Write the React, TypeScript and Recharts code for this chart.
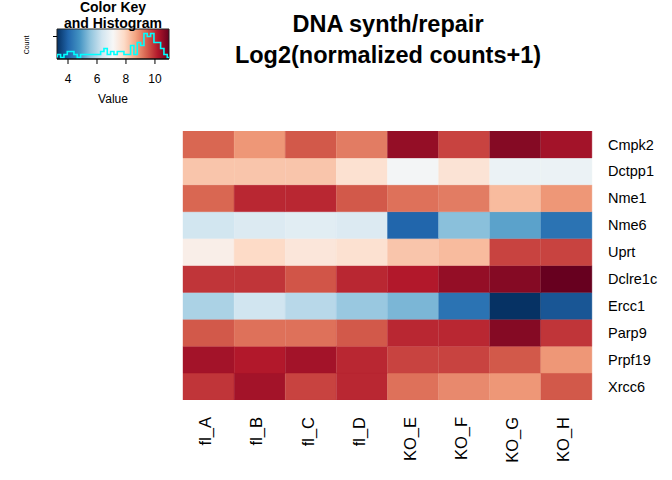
import React from 'react';
import { BarChart, Bar, Cell, XAxis, YAxis, ComposedChart, Line, ReferenceArea } from 'recharts';

const samples = ['fl_A', 'fl_B', 'fl_C', 'fl_D', 'KO_E', 'KO_F', 'KO_G', 'KO_H'];
const genes = ['Cmpk2', 'Dctpp1', 'Nme1', 'Nme6', 'Uprt', 'Dclre1c', 'Ercc1', 'Parp9', 'Prpf19', 'Xrcc6'];

// log2(normalized counts + 1)
const cmpk2 = [9.35, 8.81, 9.5, 9.11, 10.51, 9.73, 10.66, 10.35];
const dctpp1 = [8.19, 8.19, 8.19, 7.72, 7.03, 7.65, 6.87, 6.87];
const nme1 = [9.35, 10.04, 10.04, 9.5, 9.23, 9.11, 8.34, 8.81];
const nme6 = [6.36, 6.56, 6.66, 6.56, 4.01, 5.48, 5.02, 4.24];
const uprt = [7.34, 7.88, 7.57, 7.72, 8.19, 8.34, 9.73, 9.73];
const dclre1c = [9.89, 9.89, 9.54, 10.04, 10.2, 10.51, 10.66, 10.97];
const ercc1 = [5.87, 6.33, 6.02, 5.64, 5.33, 4.24, 3.27, 3.78];
const parp9 = [9.5, 9.23, 9.23, 9.5, 10.04, 10.04, 10.66, 9.89];
const prpf19 = [10.35, 10.2, 10.35, 10.04, 9.73, 9.73, 9.5, 8.81];
const xrcc6 = [9.89, 10.35, 9.73, 10.04, 9.23, 8.96, 8.81, 9.5];
const geneValues = [cmpk2, dctpp1, nme1, nme6, uprt, dclre1c, ercc1, parp9, prpf19, xrcc6];

const keyMin = 3.24;
const keyMax = 10.97;
const keyTicks = [4, 6, 8, 10];
const countTicks = [0, 1, 2, 3, 4, 5, 6, 7];

// histogram of all values (bin left edges + counts)
const histEdges = [3.26, 3.49, 3.72, 3.95, 4.18, 4.41, 4.64, 4.87, 5.1, 5.33, 5.56, 5.79, 6.02, 6.25, 6.48, 6.71, 6.94,
  7.17, 7.4, 7.63, 7.86, 8.09, 8.32, 8.55, 8.78, 9.01, 9.24, 9.47, 9.7, 9.93, 10.16, 10.39, 10.62, 10.85];
const histCounts = [1, 0, 1, 2, 2, 1, 0, 1, 1, 1, 1, 1, 1, 2, 3, 1, 2, 1, 2, 2, 1, 1, 4, 1, 5, 4, 8, 7, 8, 5, 5, 3, 1];

const palette = ['#053061', '#2166AC', '#4393C3', '#92C5DE', '#D1E5F0', '#F7F7F7', '#FDDBC7', '#F4A582', '#D6604D', '#B2182B', '#67001F'];

const font = '"Liberation Sans", Arial, Helvetica, sans-serif';

function hexToRgb(h: string) {
  const n = parseInt(h.slice(1), 16);
  return [(n >> 16) & 255, (n >> 8) & 255, n & 255];
}

function colorFor(v: number) {
  let t = (v - keyMin) / (keyMax - keyMin);
  t = Math.max(0, Math.min(1, t));
  const pos = t * (palette.length - 1);
  const i = Math.min(Math.floor(pos), palette.length - 2);
  const f = pos - i;
  const a = hexToRgb(palette[i]);
  const b = hexToRgb(palette[i + 1]);
  const c = a.map((x, k) => Math.round(x + (b[k] - x) * f));
  return `rgb(${c[0]},${c[1]},${c[2]})`;
}

const heatData = samples.map((s) => {
  const row: any = { sample: s };
  genes.forEach((g) => { row[g] = 1; });
  return row;
});

const histData = histEdges.map((e, i) => ({ v: e, c: i < histCounts.length ? histCounts[i] : 0 }));
histData.push({ v: keyMax, c: 0 });
histData.unshift({ v: histEdges[0], c: 0 });

const SampleTick = (props: any) => {
  const { x, payload } = props;
  const top = 417;
  const cx = x - 3;
  return (
    <text x={cx} y={top} dy="0.35em" textAnchor="end" transform={`rotate(-90, ${cx}, ${top})`}
      fontSize={16.5} fill="#000" fontFamily={font}>
      {payload.value}
    </text>
  );
};

const GeneTick = (props: any) => {
  const { x, y, payload } = props;
  const idx = genes.length - 1 - Math.floor(payload.value);
  return (
    <text x={x + 8} y={y} dy="0.35em" textAnchor="start" fontSize={14.5} fill="#000" fontFamily={font}>
      {genes[idx]}
    </text>
  );
};

const CountTick = (props: any) => {
  const { x, y, payload } = props;
  if (payload.value !== 0 && payload.value !== 5) return null;
  const cx = x - 6;
  return (
    <text x={cx} y={y} textAnchor="middle" transform={`rotate(-90, ${cx}, ${y})`} fontSize={12} fill="#000" fontFamily={font}>
      {payload.value}
    </text>
  );
};

function Heatmap() {
  const order = [...genes].reverse();
  return (
    <BarChart width={672} height={480} data={heatData} barCategoryGap={0} barGap={0}
      margin={{ top: 131, right: 0, bottom: 0, left: 183 }}>
      <XAxis dataKey="sample" height={80} axisLine={false} tickLine={false} tick={<SampleTick />} interval={0} />
      <YAxis orientation="right" type="number" domain={[0, genes.length]} width={80} axisLine={false} tickLine={false}
        ticks={genes.map((_, i) => i + 0.5)} tick={<GeneTick />} allowDataOverflow />
      {order.map((g) => {
        const vals = geneValues[genes.indexOf(g)];
        return (
          <Bar key={g} dataKey={g} stackId="h" isAnimationActive={false}>
            {samples.map((s, j) => (
              <Cell key={s} fill={colorFor(vals[j])} stroke={colorFor(vals[j])} strokeWidth={0.4} />
            ))}
          </Bar>
        );
      })}
    </BarChart>
  );
}

function ColorKey() {
  return (
    <ComposedChart width={672} height={110} data={histData} margin={{ top: 29, right: 503, bottom: 0, left: 37 }}>
      <defs>
        <linearGradient id="rdbu" x1="0" y1="0" x2="1" y2="0">
          {palette.map((c, i) => (
            <stop key={c} offset={`${(i / (palette.length - 1)) * 100}%`} stopColor={c} />
          ))}
        </linearGradient>
      </defs>
      <XAxis dataKey="v" type="number" domain={[keyMin, keyMax]} ticks={keyTicks} height={51} stroke="#000"
        tickSize={5} tickMargin={10} tick={{ fontSize: 12, fill: '#000', fontFamily: font }} allowDataOverflow />
      <YAxis type="number" domain={[-0.5, 9.5]} ticks={countTicks} width={20} stroke="#000" axisLine={false}
        tickSize={4} tick={<CountTick />} allowDataOverflow />
      <ReferenceArea x1={keyMin} x2={keyMax} y1={-0.5} y2={9.5} fill="url(#rdbu)" fillOpacity={1} stroke="#222" strokeWidth={1} ifOverflow="visible" />
      <Line type="stepAfter" dataKey="c" stroke="#00FFFF" strokeWidth={1.6} dot={false} isAnimationActive={false} />
    </ComposedChart>
  );
}

export default function App() {
  return (
    <div style={{ position: 'absolute', left: 0, top: 0, width: 672, height: 480, background: '#fff' }}>
      <div style={{ position: 'absolute', left: 0, top: 0 }}>
        <Heatmap />
      </div>
      <div style={{ position: 'absolute', left: 0, top: 0 }}>
        <ColorKey />
      </div>
      <svg width={672} height={480} style={{ position: 'absolute', left: 0, top: 0, pointerEvents: 'none' }}>
        <g fontFamily={font} fill="#000" textAnchor="middle">
          <text x={388} y={32} fontSize={23.5} fontWeight="bold">DNA synth/repair</text>
          <text x={388} y={63} fontSize={23.5} fontWeight="bold">Log2(normalized counts+1)</text>
          <text x={113} y={12} fontSize={14} fontWeight="bold">Color Key</text>
          <text x={113} y={28} fontSize={14} fontWeight="bold">and Histogram</text>
          <text x={113} y={103} fontSize={12}>Value</text>
          <text x={29} y={45} fontSize={7} transform="rotate(-90, 29, 45)">Count</text>
        </g>
      </svg>
    </div>
  );
}
